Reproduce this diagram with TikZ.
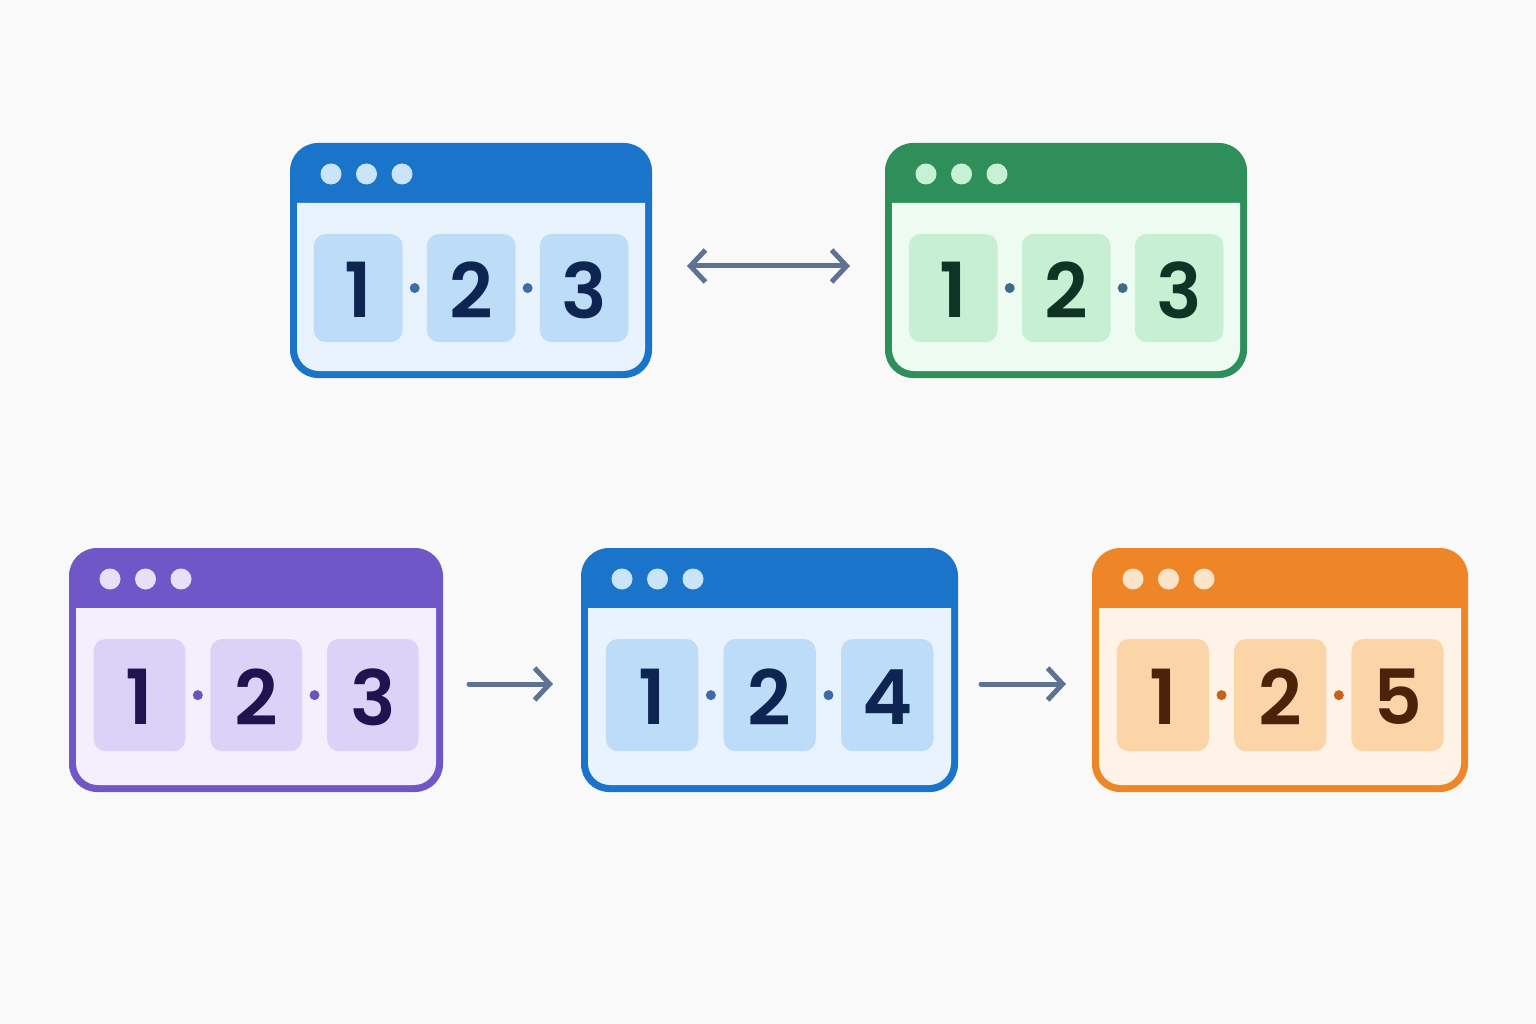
\documentclass[tikz,border=0pt]{standalone}
\usepackage{fontspec}
\setmainfont{Poppins}[BoldFont={Poppins SemiBold}]
\usetikzlibrary{arrows.meta}
\definecolor{bg}{HTML}{F9F9FA}
\definecolor{bluebd}{HTML}{1A74C9}\definecolor{bluebody}{HTML}{E8F3FD}\definecolor{bluebox}{HTML}{BDDCF8}\definecolor{bluetx}{HTML}{0D2550}\definecolor{bluedot}{HTML}{C9E4FB}\definecolor{bluesep}{HTML}{3E6AA8}
\definecolor{greenbd}{HTML}{2E8F5A}\definecolor{greenbody}{HTML}{EEFBF1}\definecolor{greenbox}{HTML}{C6EFD3}\definecolor{greentx}{HTML}{0F3324}\definecolor{greendot}{HTML}{C8F0D4}\definecolor{greensep}{HTML}{3E6A8A}
\definecolor{purplebd}{HTML}{7057C7}\definecolor{purplebody}{HTML}{F3EFFD}\definecolor{purplebox}{HTML}{DCD2F7}\definecolor{purpletx}{HTML}{1F1450}\definecolor{purpledot}{HTML}{E8E0FB}\definecolor{purplesep}{HTML}{6A55B8}
\definecolor{orangebd}{HTML}{EE8628}\definecolor{orangebody}{HTML}{FEF3E6}\definecolor{orangebox}{HTML}{FBD5A8}\definecolor{orangetx}{HTML}{4A230A}\definecolor{orangedot}{HTML}{FDE3C7}\definecolor{orangesep}{HTML}{C8621A}
\definecolor{arrowc}{HTML}{5E7393}
\tikzset{tip/.tip={Straight Barb[length=15pt,width=32pt,line width=5pt]},
conn/.style={draw=arrowc,line width=5pt,line cap=round,-tip},
digit/.style={font=\fontsize{76}{76}\selectfont\bfseries}}
\newcommand\win[7]{%
 \pgfmathsetmacro\W{#4-#2}\pgfmathsetmacro\H{#5-#3}
 \pgfmathsetmacro\hb{#3+60}
 \fill[#6bd,rounded corners=28pt] (#2,#3) rectangle (#4,#5);
 \fill[#6body] (#2+7,\hb) -- (#4-7,\hb) [rounded corners=22pt]-- (#4-7,#5-7) -- (#2+7,#5-7) [sharp corners]-- cycle;
 \foreach \k in {0,1,2}{\fill[#6dot] (#2+41+35.5*\k,#3+31) circle (10.5);}
 \pgfmathsetmacro\bw{0.245*\W}\pgfmathsetmacro\bp{0.312*\W}\pgfmathsetmacro\bo{0.066*\W}
 \pgfmathsetmacro\bt{\hb+31}\pgfmathsetmacro\bh{0.46*\H}
 \foreach \d [count=\i from 0] in {#7}{%
   \pgfmathsetmacro\bx{#2+\bo+\i*\bp}
   \fill[#6box,rounded corners=12pt] (\bx,\bt) rectangle (\bx+\bw,\bt+\bh);
   \node[digit,text=#6tx] (#1d\i) at (\bx+\bw/2,\bt+\bh/2+2) {\d};
   \ifnum\i<2 \fill[#6sep] (\bx+\bw+\bp/2-\bw/2,\bt+\bh/2) circle (5);\fi}
}
\begin{document}
\begin{tikzpicture}[x=1pt,y=-1pt]
\fill[bg] (0,0) rectangle (1536,1024);
\useasboundingbox (0,0) rectangle (1536,1024);
\win{A}{290}{143}{652}{378}{blue}{1,2,3}
\win{B}{885}{143}{1247}{378}{green}{1,2,3}
\win{C}{69}{548}{443}{792}{purple}{1,2,3}
\win{D}{581}{548}{958}{792}{blue}{1,2,4}
\win{E}{1092}{548}{1468}{792}{orange}{1,2,5}
\coordinate (a1) at (687,266);\coordinate (a2) at (850,266);
\draw[conn,tip-tip] (a1) -- (a2);
\coordinate (b1) at (469,684);\coordinate (b2) at (553,684);
\coordinate (c1) at (981,684);\coordinate (c2) at (1066,684);
\draw[conn] (b1) -- (b2);
\draw[conn] (c1) -- (c2);
\end{tikzpicture}
\end{document}
